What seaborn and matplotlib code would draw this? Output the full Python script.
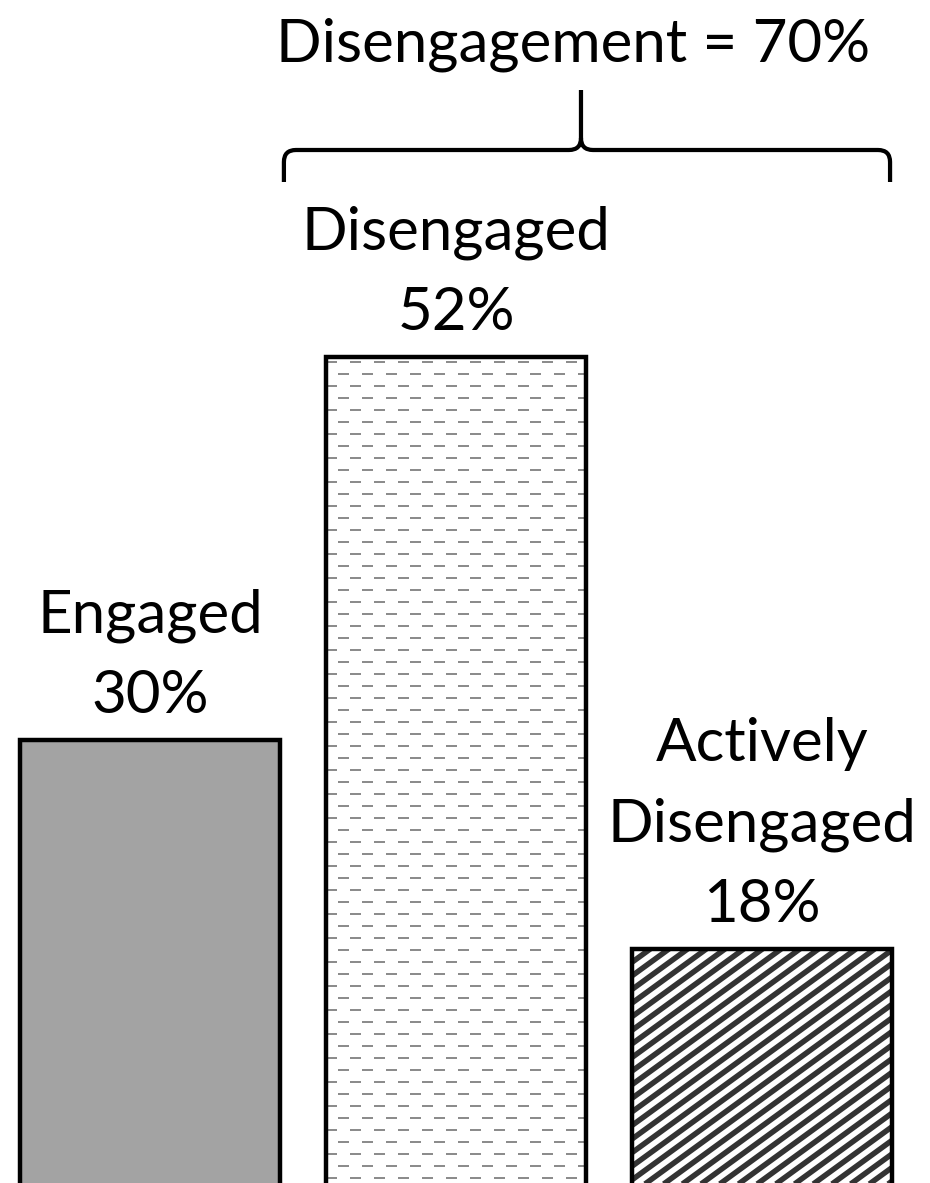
import matplotlib
matplotlib.use("Agg")
import matplotlib.pyplot as plt
import seaborn as sns
import numpy as np
import pandas as pd
from matplotlib.path import Path
from matplotlib.patches import PathPatch
from matplotlib.collections import LineCollection

# ---------------------------------------------------------------------
# Data
# ---------------------------------------------------------------------
categories = ["Engaged", "Disengaged", "Actively\nDisengaged"]
shares = [30, 52, 18]
bracket_title = "Disengagement = 70%"

# styling per bar: solid fill, staggered dashes, diagonal stripes
fills = ["#a3a3a3", "white", "white"]
textures = ["", "dash", "stripe"]

sns.set_theme(style="white")
plt.rcParams["font.family"] = ["Lato", "DejaVu Sans"]
plt.rcParams["lines.scale_dashes"] = False

DPI = 80
W, H = 930, 1183
PT = 72 / DPI  # points per pixel
fig = plt.figure(figsize=(W / DPI, H / DPI), dpi=DPI)
ax = fig.add_axes([0, 0, 1, 1])

df = pd.DataFrame({"category": categories, "share": shares})

xlim = (-0.49, 2.549)
ylim = (4.54, 72.5)
dx = (xlim[1] - xlim[0]) / W
dy = (ylim[1] - ylim[0]) / H


def px(x, y):
    """pixel position (from top-left) -> data coords"""
    return (xlim[0] + x * dx, ylim[1] - y * dy)


def bar_px(bar):
    c0 = (bar.get_x() - xlim[0]) / dx
    c1 = (bar.get_x() + bar.get_width() - xlim[0]) / dx
    r0 = (ylim[1] - bar.get_height()) / dy
    r1 = (ylim[1] - bar.get_y()) / dy
    return c0, c1, r0, r1


def add_dashes(bar):
    c0, c1, r0, r1 = bar_px(bar)
    period, dash, row = 24, 11, 12
    for k, off in enumerate([0, period / 2]):
        segs = [[px(c0 - off, r), px(c1 + 1, r)]
                for r in np.arange(r0 + 5 + k * row, r1, 2 * row)]
        lc = LineCollection(segs, colors="#8c8c8c", linewidths=2 * PT,
                            linestyles=[(0, (dash * PT, (period - dash) * PT))],
                            capstyle="butt", zorder=1.5)
        ax.add_collection(lc)
        lc.set_clip_path(bar)


def add_stripes(bar):
    c0, c1, r0, r1 = bar_px(bar)
    ph, pv = 18.7, 13.6           # horizontal / vertical stripe period, px
    perp = ph * pv / np.hypot(ph, pv)
    span = (c1 - c0) + (r1 - r0) * ph / pv
    segs = []
    for s in np.arange(c0 - (r1 - r0) * ph / pv - ph, c1 + ph, ph):
        # line through (s, r1) rising to the right
        segs.append([px(s, r1), px(s + span, r1 - span * pv / ph)])
    lc = LineCollection(segs, colors="#333333", linewidths=perp * 0.5 * PT,
                        capstyle="butt", zorder=1.5)
    ax.add_collection(lc)
    lc.set_clip_path(bar)


# fill + texture layer
sns.barplot(data=df, x="category", y="share", order=categories,
            width=0.85, errorbar=None, ax=ax)
fill_bars = list(ax.patches)
for bar, fc, tex in zip(fill_bars, fills, textures):
    bar.set_facecolor(fc)
    bar.set_linewidth(0)
    if tex == "dash":
        add_dashes(bar)
    elif tex == "stripe":
        add_stripes(bar)

# outline layer
sns.barplot(data=df, x="category", y="share", order=categories,
            width=0.85, errorbar=None, ax=ax)
outline_bars = list(ax.patches)[len(fill_bars):]
for bar in outline_bars:
    bar.set_facecolor("none")
    bar.set_edgecolor("black")
    bar.set_linewidth(4)
    bar.set_zorder(3)

ax.set_xlim(*xlim)
ax.set_ylim(*ylim)
ax.set_axis_off()

# bar labels: name + percentage above each bar
for bar, name, val in zip(outline_bars, categories, shares):
    ax.annotate(f"{name}\n{val}%",
                xy=(bar.get_x() + bar.get_width() / 2, bar.get_height()),
                xytext=(0, 15), textcoords="offset points",
                ha="center", va="bottom", fontsize=54, linespacing=1.6,
                color="black")

# ---------------------------------------------------------------------
# Brace over the two disengaged bars
# ---------------------------------------------------------------------
b1, b2 = outline_bars[1], outline_bars[2]
left_px = (b1.get_x() - xlim[0]) / dx - 42
right_px = (b2.get_x() + b2.get_width() - xlim[0]) / dx - 2
mid_px = (left_px + right_px) / 2 - 6
top, bar_y, arm_y, r = 90, 150, 182, 12

verts = [
    px(left_px, arm_y), px(left_px, bar_y + r),
    px(left_px, bar_y), px(left_px + r, bar_y),
    px(mid_px - r, bar_y),
    px(mid_px, bar_y), px(mid_px, bar_y - r),
    px(mid_px, top),
    px(mid_px, bar_y - r),
    px(mid_px, bar_y), px(mid_px + r, bar_y),
    px(right_px - r, bar_y),
    px(right_px, bar_y), px(right_px, bar_y + r),
    px(right_px, arm_y),
]
codes = [
    Path.MOVETO, Path.LINETO,
    Path.CURVE3, Path.CURVE3,
    Path.LINETO,
    Path.CURVE3, Path.CURVE3,
    Path.LINETO,
    Path.MOVETO,
    Path.CURVE3, Path.CURVE3,
    Path.LINETO,
    Path.CURVE3, Path.CURVE3,
    Path.LINETO,
]
ax.add_patch(PathPatch(Path(verts, codes), facecolor="none",
                       edgecolor="black", linewidth=3.8,
                       capstyle="butt", joinstyle="round"))

tx, ty = px(mid_px - 8, 62)
ax.text(tx, ty, bracket_title, ha="center", va="baseline",
        fontsize=54, color="black")

fig.savefig("out.png", dpi=DPI, facecolor="white")
